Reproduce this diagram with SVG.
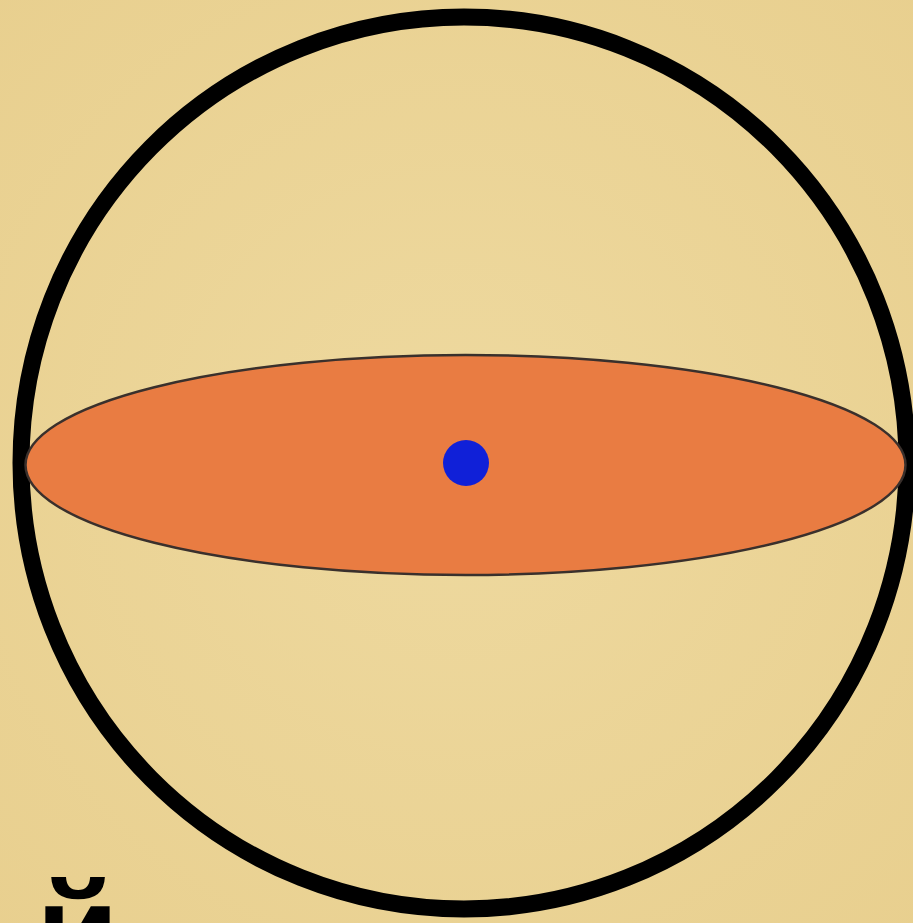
<svg xmlns="http://www.w3.org/2000/svg" width="913" height="923" viewBox="0 0 913 923">
<defs>
<style>
.ring{fill:none;stroke:#000;stroke-width:17}
.disk{fill:#E97C42;stroke:#3a302c;stroke-width:2.5}
.dot{fill:#1020D8}
.lbl{font-family:"Liberation Sans",Arial,sans-serif;font-weight:bold;font-size:135px;fill:#000}
</style>
<radialGradient id="bg" cx="0.5" cy="0.5" r="0.75">
<stop offset="0" stop-color="#EED99F"/>
<stop offset="1" stop-color="#E8CF8E"/>
</radialGradient>
</defs>
<rect width="913" height="923" fill="url(#bg)"/>
<g id="sphere"><ellipse class="ring" cx="464" cy="463" rx="443" ry="446"/></g>
<g id="plane"><ellipse class="disk" cx="465.5" cy="465" rx="440" ry="110"/></g>
<g id="center"><circle class="dot" cx="466" cy="463" r="23"/></g>
<g id="label"><text class="lbl" x="36" y="978">й</text></g>
</svg>
